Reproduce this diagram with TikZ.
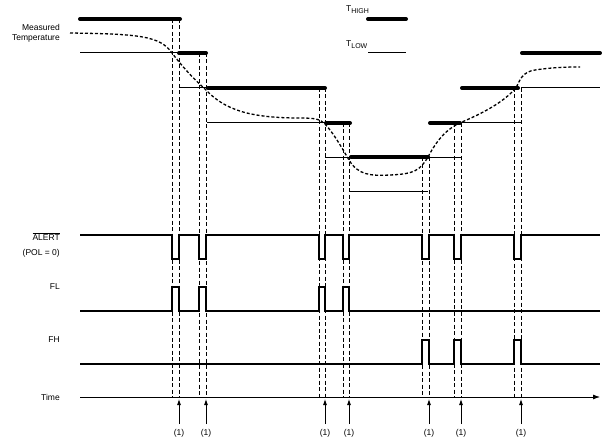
\documentclass[tikz,border=0pt]{standalone}
\usepackage{fontspec}
\setmainfont{Liberation Sans}
\usetikzlibrary{arrows.meta}
\begin{document}
\begin{tikzpicture}[x=1pt,y=-1pt,font=\fontsize{8.5}{10}\selectfont,
  thick/.style={line width=4pt,line cap=round},
  thin/.style={line width=1pt},
  sig/.style={line width=1.3pt},
  vdash/.style={line width=0.7pt,dash pattern=on 4pt off 2.5pt},
  lbl/.style={anchor=east,inner sep=0pt}]
\useasboundingbox (0,0) rectangle (602,441);
% thresholds
\foreach \a/\b/\y in {80/180/19,179/206/53,208/325/88,326/350/123,351/428/157,430/460/123,462/518/88,522/600/53}
  \draw[thick] (\a,\y) -- (\b,\y);
\foreach \a/\b/\y in {80/179/53,179/207/88,207/325/123,325/462/157,349/428/191,462/521/123,521/600/88}
  \draw[thin] (\a,\y) -- (\b,\y);
% legend
\node[anchor=west,inner sep=0pt] (th) at (346,10) {T\textsubscript{\scriptsize HIGH}};
\draw[thick] (368,19) -- (406,19);
\node[anchor=west,inner sep=0pt] (tl) at (346,45) {T\textsubscript{\scriptsize LOW}};
\draw[thin] (368,53) -- (406,53);
% labels
\node[lbl,align=right] (mt) at (60,33) {Measured\\Temperature};
\node[lbl] (al) at (60,237) {$\overline{\mbox{ALERT}}$};
\node[lbl] (pol) at (60,253) {(POL = 0)};
\node[lbl] (fl) at (60,287) {FL};
\node[lbl] (fh) at (60,340) {FH};
\node[lbl] (tm) at (60,397) {Time};
% temperature curve
\draw[line width=1.3pt,dash pattern=on 3pt off 2pt] (70,33) .. controls (140,34) and (160,36) .. (172,53)
  .. controls (185,70) and (195,80) .. (206,90) .. controls (225,110) and (250,118) .. (300,118)
  .. controls (315,118) and (320,119) .. (325,124) .. controls (335,135) and (343,150) .. (349,160)
  .. controls (358,175) and (370,176) .. (390,175) .. controls (415,174) and (420,170) .. (428,157)
  .. controls (438,138) and (448,128) .. (462,122) .. controls (490,110) and (505,100) .. (516,88)
  .. controls (520,80) and (522,72) .. (535,70) .. controls (555,67) and (570,67) .. (580,67);
% dashed verticals
\foreach \xa/\xb/\y in {172/179/19,199/206/53,319/325/88,343/349/123,422/429/157,454/461/123,514/521/88}{
  \draw[vdash] (\xa,\y) -- (\xa,397);
  \draw[vdash] (\xb,\y) -- (\xb,397);
}
% signals
\draw[sig] (80,235) -- (172,235) -- (172,259) -- (179,259) -- (179,235) -- (199,235) -- (199,259) -- (206,259) -- (206,235)
 -- (319,235) -- (319,259) -- (325,259) -- (325,235) -- (343,235) -- (343,259) -- (349,259) -- (349,235)
 -- (422,235) -- (422,259) -- (429,259) -- (429,235) -- (454,235) -- (454,259) -- (461,259) -- (461,235)
 -- (514,235) -- (514,259) -- (521,259) -- (521,235) -- (600,235);
\draw[sig] (80,311) -- (172,311) -- (172,287) -- (179,287) -- (179,311) -- (199,311) -- (199,287) -- (206,287) -- (206,311)
 -- (319,311) -- (319,287) -- (325,287) -- (325,311) -- (343,311) -- (343,287) -- (349,287) -- (349,311) -- (600,311);
\draw[sig] (80,364) -- (422,364) -- (422,340) -- (429,340) -- (429,364) -- (454,364) -- (454,340) -- (461,340) -- (461,364)
 -- (514,364) -- (514,340) -- (521,340) -- (521,364) -- (600,364);
% time axis
\coordinate (t0) at (80,397); \coordinate (t1) at (600,397);
\draw[line width=0.8pt,-{Latex[length=7pt,width=5pt]}] (t0) -- (t1);
\foreach \x in {179,206,325,349,429,461,521}{
  \draw[line width=0.8pt,-{Latex[length=6pt,width=4pt]}] (\x,424) -- (\x,399);
  \node[inner sep=0pt] at (\x,433) {(1)};
}
\end{tikzpicture}
\end{document}
